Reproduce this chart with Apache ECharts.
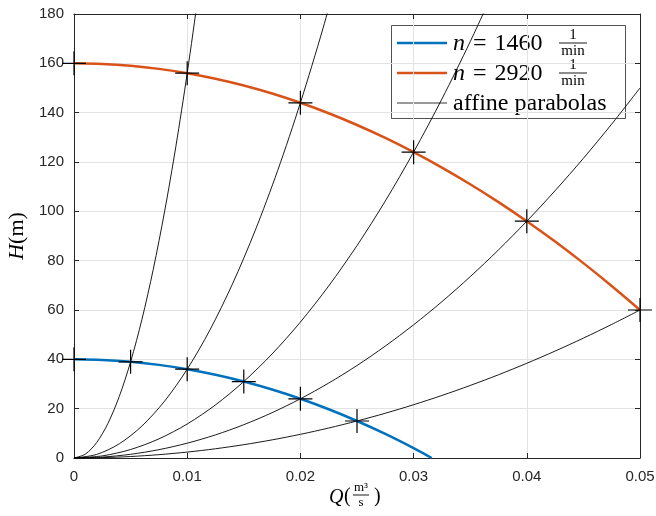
<!DOCTYPE html>
<html>
<head>
<meta charset="utf-8">
<script src="https://cdn.jsdelivr.net/npm/echarts@6/dist/echarts.min.js"></script>
<style>
  html, body { margin: 0; padding: 0; background: #fff; }
  #chart { width: 656px; height: 516px; }
</style>
</head>
<body>
<div id="chart"></div>
<script>
// pump curves (Q in m^3/s, H in m)
const qPump = [0, 0.0025, 0.005, 0.0075, 0.01, 0.0125, 0.015, 0.0175, 0.02, 0.0225, 0.025, 0.0275, 0.03, 0.0316,
  0.0325, 0.035, 0.0375, 0.04, 0.0425, 0.045, 0.0475, 0.05];
const h1460 = [40, 39.75, 39, 37.75, 36, 33.75, 31, 27.75, 24, 19.75, 15, 9.75, 4, 0];
const h2920 = [160, 159.75, 159, 157.75, 156, 153.75, 151, 147.75, 144, 139.75, 135, 129.75, 124, null,
  117.75, 111, 103.75, 96, 87.75, 79, 69.75, 60];

// affine parabolas through origin
const qPar1 = [0, 0.001, 0.002, 0.003, 0.004, 0.005, 0.006, 0.007, 0.008, 0.009, 0.01, 0.011, 0.012];
const hPar1 = [0, 1.56, 6.24, 14.04, 24.96, 39, 56.16, 76.44, 99.84, 126.36, 156, 188.76, 224.64];
const qPar2 = [0, 0.002, 0.004, 0.006, 0.008, 0.01, 0.012, 0.014, 0.016, 0.018, 0.02, 0.022, 0.024];
const hPar2 = [0, 1.44, 5.76, 12.96, 23.04, 36, 51.84, 70.56, 92.16, 116.64, 144, 174.24, 207.36];
const qPar = [0, 0.0025, 0.005, 0.0075, 0.01, 0.0125, 0.015, 0.0175, 0.02, 0.0225, 0.025, 0.0275, 0.03,
  0.0325, 0.035, 0.0375, 0.04, 0.0425, 0.045, 0.0475, 0.05];
const hPar3 = [0, 0.86, 3.44, 7.75, 13.78, 21.53, 31, 42.19, 55.11, 69.75, 86.11, 104.19, 124, 145.53, 168.78, 193.75];
const hPar4 = [0, 0.375, 1.5, 3.375, 6, 9.375, 13.5, 18.375, 24, 30.375, 37.5, 45.375, 54, 63.375, 73.5, 84.375,
  96, 108.375, 121.5, 135.375, 150];
const hPar5 = [0, 0.15, 0.6, 1.35, 2.4, 3.75, 5.4, 7.35, 9.6, 12.15, 15, 18.15, 21.6, 25.35, 29.4, 33.75, 38.4,
  43.35, 48.6, 54.15, 60];

// operating points (markers)
const pts1460 = [[0, 40], [0.005, 39], [0.01, 36], [0.015, 31], [0.02, 24], [0.025, 15]];
const pts2920 = [[0, 160], [0.01, 156], [0.02, 144], [0.03, 124], [0.04, 96], [0.05, 60]];

const BLUE = '#0072BD', ORANGE = '#D95319', AX = '#262626';
const SERIF = '"Liberation Serif", "DejaVu Serif", serif';
const SANS = '"Liberation Sans", Arial, sans-serif';

function pairs(xs, ys) {
  const out = [];
  for (let i = 0; i < ys.length; i++) if (ys[i] != null) out.push([xs[i], ys[i]]);
  return out;
}

function parabola(xs, ys) {
  return {
    type: 'line', data: pairs(xs, ys), smooth: 0.3, showSymbol: false, silent: true,
    lineStyle: { color: '#000', width: 0.9 }, z: 2
  };
}

const chart = echarts.init(document.getElementById('chart'));

const axisCommon = {
  axisLine: { show: true, onZero: false, lineStyle: { color: AX, width: 1 } },
  axisTick: { show: true, inside: true, length: 5, lineStyle: { color: AX } },
};

// fraction helper for graphic text
function frac(cx, cy, num, den, w, size, gap) {
  return [
    { type: 'text', x: cx, y: cy - gap, style: { text: num, font: size + 'px ' + SERIF, fill: '#000', align: 'center', verticalAlign: 'middle' } },
    { type: 'line', shape: { x1: cx - w / 2, y1: cy, x2: cx + w / 2, y2: cy }, style: { stroke: '#000', lineWidth: 0.9 } },
    { type: 'text', x: cx, y: cy + gap, style: { text: den, font: size + 'px ' + SERIF, fill: '#000', align: 'center', verticalAlign: 'middle' } }
  ];
}

const legendRows = [
  { y: 43, color: BLUE, width: 2.5, label: '1460' },
  { y: 73, color: ORANGE, width: 2.5, label: '2920' },
  { y: 103, color: '#000', width: 0.8, label: null }
];
const legendEls = [
  { type: 'rect', shape: { x: 391.5, y: 25.5, width: 234, height: 93 }, style: { fill: '#fff', stroke: AX, lineWidth: 0.8 } }
];
legendRows.forEach(r => {
  legendEls.push({ type: 'line', shape: { x1: 397, y1: r.y, x2: 447, y2: r.y }, style: { stroke: r.color, lineWidth: r.width } });
  if (r.label) {
    legendEls.push({
      type: 'text', x: 453, y: r.y + 1,
      style: {
        text: '{i|n} {e|=} ' + r.label, font: '24px ' + SERIF, fill: '#000', verticalAlign: 'middle',
        rich: {
          i: { fontStyle: 'italic', fontFamily: SERIF, fontSize: 24 },
          e: { fontFamily: SERIF, fontSize: 24, padding: [0, 2] }
        }
      }
    });
    frac(573, r.y, '1', 'min', 28, 15, 8).forEach(e => legendEls.push(e));
  } else {
    legendEls.push({ type: 'text', x: 453, y: r.y + 1, style: { text: 'affine parabolas', font: '24px ' + SERIF, fill: '#000', verticalAlign: 'middle' } });
  }
});

const xLabelEls = [
  { type: 'text', x: 329, y: 498, style: { text: 'Q', font: 'italic 20px ' + SERIF, fill: '#000', verticalAlign: 'middle' } },
  { type: 'text', x: 344, y: 497, style: { text: '(', font: '20px ' + SERIF, fill: '#000', verticalAlign: 'middle' } },
  ...frac(361, 495, 'm³', 's', 16, 13, 7.5),
  { type: 'text', x: 374, y: 497, style: { text: ')', font: '20px ' + SERIF, fill: '#000', verticalAlign: 'middle' } }
];

chart.setOption({
  backgroundColor: '#fff',
  animation: false,
  grid: { left: 74, right: 16, top: 14, bottom: 58, containLabel: false, outerBoundsMode: 'none' },
  xAxis: [
    Object.assign({
      type: 'value', min: 0, max: 0.05, interval: 0.01, position: 'bottom',
      axisLabel: { color: AX, fontFamily: SANS, fontSize: 15, margin: 11, formatter: v => String(+v.toFixed(2)) },
      splitLine: { show: true, lineStyle: { color: '#e3e3e3', width: 1 } }
    }, axisCommon),
    Object.assign({
      type: 'value', min: 0, max: 0.05, interval: 0.01, position: 'top',
      axisLabel: { show: false }, splitLine: { show: false }
    }, axisCommon)
  ],
  yAxis: [
    Object.assign({
      type: 'value', min: 0, max: 180, interval: 20, position: 'left',
      axisLabel: { color: AX, fontFamily: SANS, fontSize: 15, margin: 10 },
      splitLine: { show: true, lineStyle: { color: '#e3e3e3', width: 1 } },
      name: '{i|H}(m)', nameLocation: 'middle', nameGap: 41, nameRotate: 90,
      nameTextStyle: {
        fontFamily: SERIF, fontSize: 22, color: '#000',
        rich: { i: { fontStyle: 'italic', fontFamily: SERIF, fontSize: 22, color: '#000' } }
      }
    }, axisCommon),
    Object.assign({
      type: 'value', min: 0, max: 180, interval: 20, position: 'right',
      axisLabel: { show: false }, splitLine: { show: false }
    }, axisCommon)
  ],
  series: [
    parabola(qPar1, hPar1),
    parabola(qPar2, hPar2),
    parabola(qPar, hPar3),
    parabola(qPar, hPar4),
    parabola(qPar, hPar5),
    {
      type: 'line', name: 'n = 1460', data: pairs(qPump, h1460), smooth: 0.3, showSymbol: false,
      lineStyle: { color: BLUE, width: 2.5 }, z: 3
    },
    {
      type: 'line', name: 'n = 2920', data: pairs(qPump, h2920), smooth: 0.3, showSymbol: false,
      lineStyle: { color: ORANGE, width: 2.5 }, z: 3
    },
    {
      type: 'scatter', data: pts1460.concat(pts2920), clip: false, z: 4,
      symbol: 'path://M0,-1L0,1M-1,0L1,0', symbolSize: 24,
      itemStyle: { color: 'rgba(0,0,0,0)', borderColor: '#000', borderWidth: 1.2, opacity: 1 }
    }
  ],
  graphic: [
    { type: 'group', z: 100, children: legendEls },
    { type: 'group', z: 100, children: xLabelEls }
  ]
});
</script>
</body>
</html>
